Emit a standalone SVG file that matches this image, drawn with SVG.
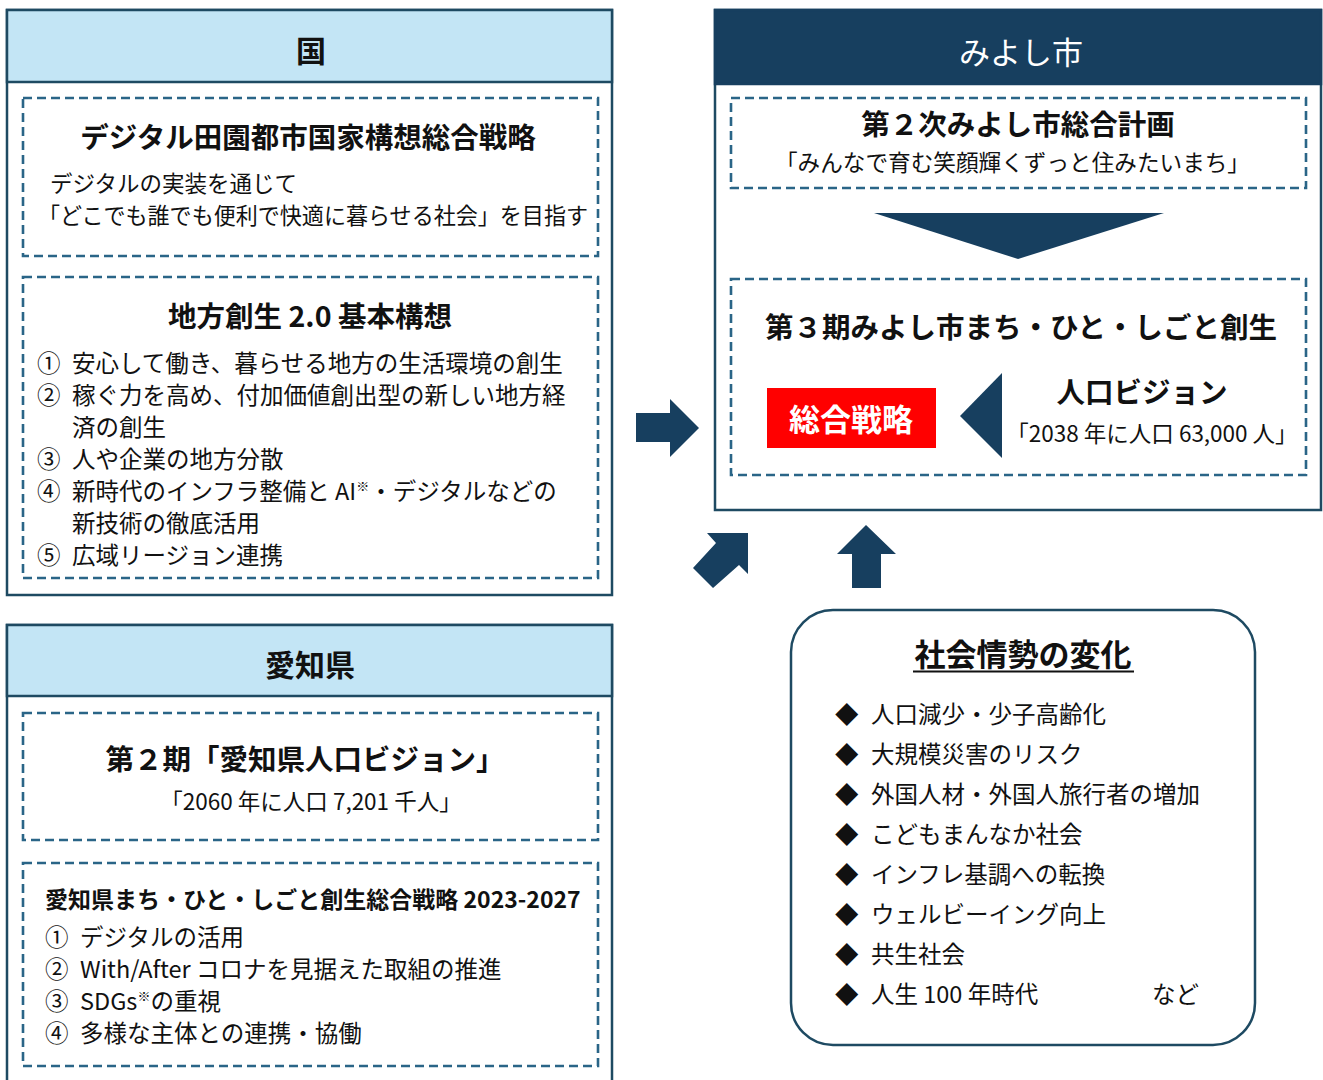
<svg xmlns="http://www.w3.org/2000/svg" width="1323" height="1080" viewBox="0 0 1323 1080">
<style>
text{font-family:"Noto Sans CJK JP","Noto Sans",sans-serif;fill:#111}
.outer{fill:#fff;stroke:#1e4a62;stroke-width:2.5}
.hdr{fill:#c3e5f5;stroke:#1e4a62;stroke-width:2.5}
.navy{fill:#173f5f}
.dash{fill:none;stroke:#2a6587;stroke-width:2.6;stroke-dasharray:9 5}
.h{font-weight:700}
.c{text-anchor:middle}
.t22{font-size:22.5px}
.t23{font-size:23.5px}
.t28{font-size:28.5px}
.t30{font-size:30px}
.sup{font-size:13px}
</style>
<rect width="1323" height="1080" fill="#fff"/>

<g id="node-kuni">
<rect class="outer" x="7" y="10" width="605" height="585"/>
<rect class="hdr" x="7" y="10" width="605" height="72"/>
<text class="h c t30" x="311" y="62">国</text>
<rect class="dash" x="23" y="98" width="575" height="158"/>
<text class="h c t28" x="308" y="148">デジタル田園都市国家構想総合戦略</text>
<text class="t22" x="50" y="192">デジタルの実装を通じて</text>
<text class="t22" x="38" y="224" textLength="550" lengthAdjust="spacingAndGlyphs">「どこでも誰でも便利で快適に暮らせる社会」を目指す</text>
<rect class="dash" x="23" y="277" width="575" height="301"/>
<text class="h c t28" x="310" y="327">地方創生 2.0 基本構想</text>
<g class="t23">
<text x="37" y="372">①<tspan x="72">安心して働き、暮らせる地方の生活環境の創生</tspan></text>
<text x="37" y="404">②<tspan x="72">稼ぐ力を高め、付加価値創出型の新しい地方経</tspan></text>
<text x="72" y="436">済の創生</text>
<text x="37" y="468">③<tspan x="72">人や企業の地方分散</tspan></text>
<text x="37" y="500">④<tspan x="72">新時代のインフラ整備と AI</tspan><tspan class="sup" dy="-9">※</tspan><tspan dy="9">・デジタルなどの</tspan></text>
<text x="72" y="532">新技術の徹底活用</text>
<text x="37" y="564">⑤<tspan x="72">広域リージョン連携</tspan></text>
</g>
</g>

<g id="node-aichi">
<rect class="outer" x="7" y="625" width="605" height="470"/>
<rect class="hdr" x="7" y="625" width="605" height="71"/>
<text class="h c t30" x="310" y="676">愛知県</text>
<rect class="dash" x="23" y="713" width="575" height="127"/>
<text class="h c t28" x="305" y="770">第２期「愛知県人口ビジョン」</text>
<text class="c t22" x="311" y="810">「2060 年に人口 7,201 千人」</text>
<rect class="dash" x="23" y="863" width="575" height="203"/>
<text class="h" x="45" y="908" font-size="23">愛知県まち・ひと・しごと創生総合戦略 2023-2027</text>
<g class="t23">
<text x="45" y="946">①<tspan x="80">デジタルの活用</tspan></text>
<text x="45" y="978">②<tspan x="80">With/After コロナを見据えた取組の推進</tspan></text>
<text x="45" y="1010">③<tspan x="80">SDGs</tspan><tspan class="sup" dy="-9">※</tspan><tspan dy="9">の重視</tspan></text>
<text x="45" y="1042">④<tspan x="80">多様な主体との連携・協働</tspan></text>
</g>
</g>

<g id="node-miyoshi">
<rect class="outer" x="715" y="10" width="606" height="500"/>
<rect class="navy" x="715" y="10" width="606" height="74" stroke="#173f5f" stroke-width="2.5"/>
<text class="c" x="1021" y="64" font-size="31" style="fill:#fff">みよし市</text>
<rect class="dash" x="731" y="98" width="575" height="90"/>
<text class="h c t28" x="1018" y="135">第２次みよし市総合計画</text>
<text class="t22" x="775" y="171" textLength="475" lengthAdjust="spacingAndGlyphs">「みんなで育む笑顔輝くずっと住みたいまち」</text>
<rect class="dash" x="731" y="279" width="575" height="196"/>
<text class="h c t28" x="1021" y="338">第３期みよし市まち・ひと・しごと創生</text>
<rect x="767" y="388" width="169" height="60" fill="#ff0000"/>
<text class="h c" x="851" y="431" font-size="31" style="fill:#fff">総合戦略</text>
<text class="h c t28" x="1142" y="403">人口ビジョン</text>
<text class="c t22" x="1152" y="442">「2038 年に人口 63,000 人」</text>
</g>

<g id="node-shakai">
<rect x="791" y="610" width="464" height="435" rx="42" ry="42" fill="#fff" stroke="#1e4a62" stroke-width="2.5"/>
<text class="h c" x="1023" y="666" font-size="31">社会情勢の変化</text>
<line x1="913" y1="671.5" x2="1134" y2="671.5" stroke="#111" stroke-width="2"/>
<g class="t23">
<text x="835" y="723">◆<tspan x="871">人口減少・少子高齢化</tspan></text>
<text x="835" y="763">◆<tspan x="871">大規模災害のリスク</tspan></text>
<text x="835" y="803">◆<tspan x="871">外国人材・外国人旅行者の増加</tspan></text>
<text x="835" y="843">◆<tspan x="871">こどもまんなか社会</tspan></text>
<text x="835" y="883">◆<tspan x="871">インフレ基調への転換</tspan></text>
<text x="835" y="923">◆<tspan x="871">ウェルビーイング向上</tspan></text>
<text x="835" y="963">◆<tspan x="871">共生社会</tspan></text>
<text x="835" y="1003">◆<tspan x="871">人生 100 年時代</tspan><tspan x="1152">など</tspan></text>
</g>
</g>

<g id="connectors">
<polygon class="navy" points="874,213 1164,213 1018,259"/>
<polygon class="navy" points="960,416 1002,373 1002,458"/>
<polygon class="navy" points="636,413 670,413 670,399 699,428 670,457 670,442 636,442"/>
<polygon class="navy" points="748,533 748,574 739,565 713,588 693,568 716,543 707,533"/>
<polygon class="navy" points="866,525 896,554 881,554 881,588 852,588 852,554 837,554"/>
</g>
</svg>
